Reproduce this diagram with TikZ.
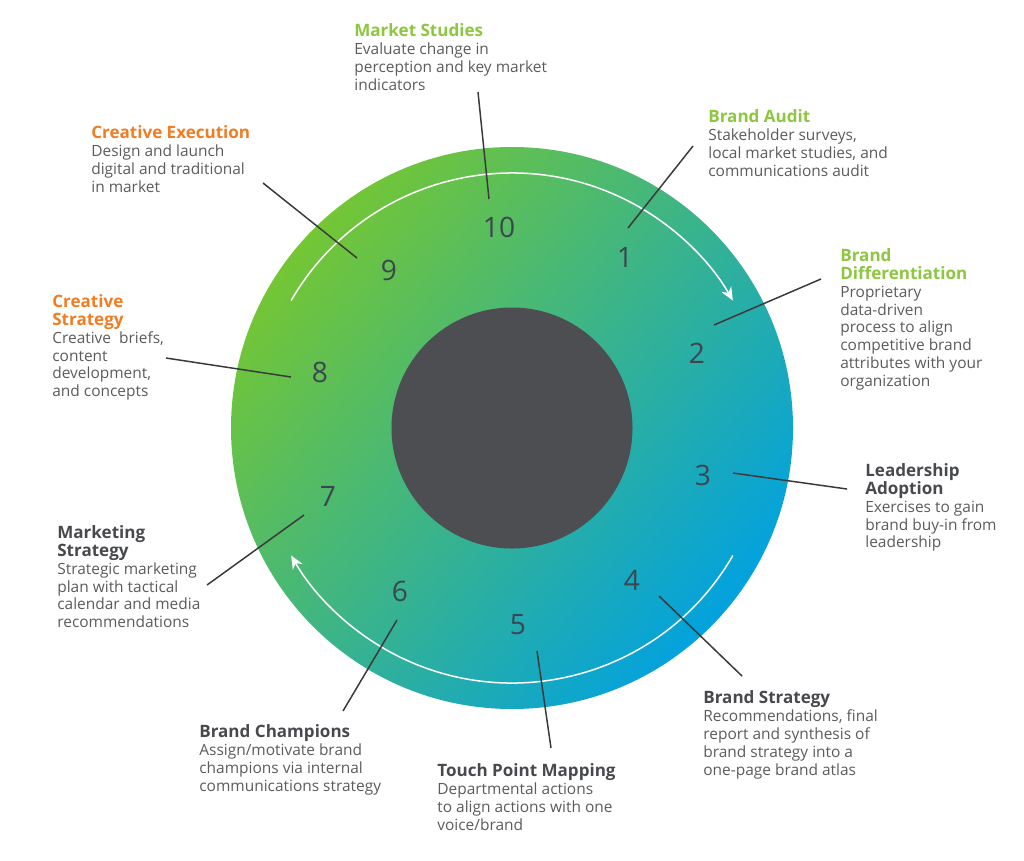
\documentclass[tikz,border=0pt]{standalone}
\usepackage{fontspec}
\setmainfont{Open Sans}
\usetikzlibrary{arrows.meta}

\definecolor{titlegreen}{HTML}{8DC63F}
\definecolor{titleorange}{HTML}{F07D23}
\definecolor{titledark}{HTML}{48494D}
\definecolor{bodygray}{HTML}{5B5B5D}
\definecolor{numgray}{HTML}{3C4650}
\definecolor{hubgray}{HTML}{4C4E52}
\definecolor{linegray}{HTML}{3A3A3C}
\definecolor{ringgreen}{HTML}{74C634}
\definecolor{ringmid}{HTML}{3DB77A}
\definecolor{ringblue}{HTML}{02A2DF}

\newcommand{\ttl}[2]{{\color{#1}\bfseries\fontsize{9.7}{10.2}\selectfont #2}}

\tikzset{
  num/.style={text=numgray, font=\fontsize{16}{16}\selectfont},
  blk/.style={anchor=north west, inner sep=0pt, align=left, text=bodygray,
    font=\fontsize{8.8}{10.2}\selectfont},
  lead/.style={draw=linegray, line width=0.85pt},
  loop/.style={draw=white, line width=0.85pt, -{Stealth[length=7.5pt, width=6.5pt]}},
}

\begin{document}
\begin{tikzpicture}[x=0.02cm, y=-0.02cm]
  \useasboundingbox (0,0) rectangle (1024,860);
  \coordinate (c) at (512,428);

  % ring and hub
  \shade[top color=ringgreen, middle color=ringmid, bottom color=ringblue, shading angle=50]
    (c) circle[radius=281];
  \fill[hubgray] (c) circle[radius=120.5];

  % white cycle arrows
  \draw[loop] (c) ++(-150:255) arc[start angle=-150, end angle=-30, radius=255];
  \draw[loop] (c) ++(30:255) arc[start angle=30, end angle=150, radius=255];

  % step numbers
  \node[num] (n1) at (625,257) {1};
  \node[num] (n2) at (697,353) {2};
  \node[num] (n3) at (703,475) {3};
  \node[num] (n4) at (632,580) {4};
  \node[num] (n5) at (518,625) {5};
  \node[num] (n6) at (400,591) {6};
  \node[num] (n7) at (328,496) {7};
  \node[num] (n8) at (320,372) {8};
  \node[num] (n9) at (389,270) {9};
  \node[num] (n10) at (499,227) {10};

  % text blocks
  \node[blk] (ms) at (354,23) {\ttl{titlegreen}{Market Studies}\\Evaluate change in\\perception and key market\\indicators};
  \node[blk] (ba) at (708,109) {\ttl{titlegreen}{Brand Audit}\\Stakeholder surveys,\\local market studies, and\\communications audit};
  \node[blk] (bd) at (840,248) {\ttl{titlegreen}{Brand}\\\ttl{titlegreen}{Differentiation}\\Proprietary\\data-driven\\process to align\\competitive brand\\attributes with your\\organization};
  \node[blk] (la) at (865,463) {\ttl{titledark}{Leadership}\\\ttl{titledark}{Adoption}\\Exercises to gain\\brand buy-in from\\leadership};
  \node[blk] (bs) at (703,690) {\ttl{titledark}{Brand Strategy}\\Recommendations, final\\report and synthesis of\\brand strategy into a\\one-page brand atlas};
  \node[blk] (tpm) at (437,763) {\ttl{titledark}{Touch Point Mapping}\\Departmental actions\\to align actions with one\\voice/brand};
  \node[blk] (bc) at (199,724) {\ttl{titledark}{Brand Champions}\\Assign/motivate brand\\champions via internal\\communications strategy};
  \node[blk] (mks) at (57,525) {\ttl{titledark}{Marketing}\\\ttl{titledark}{Strategy}\\Strategic marketing\\plan with tactical\\calendar and media\\recommendations};
  \node[blk] (cs) at (52,294) {\ttl{titleorange}{Creative}\\\ttl{titleorange}{Strategy}\\Creative~ briefs,\\content\\development,\\and concepts};
  \node[blk] (ce) at (91,125) {\ttl{titleorange}{Creative Execution}\\Design and launch\\digital and traditional\\in market};

  % leader lines
  \coordinate (a1) at (628,228);  \coordinate (b1) at (693,146);
  \coordinate (a2) at (714,325);  \coordinate (b2) at (821,279);
  \coordinate (a3) at (733,473);  \coordinate (b3) at (847,489);
  \coordinate (a4) at (659,596);  \coordinate (b4) at (742,676);
  \coordinate (a5) at (537,651);  \coordinate (b5) at (551,748);
  \coordinate (a6) at (397,620);  \coordinate (b6) at (343,711);
  \coordinate (a7) at (304,515);  \coordinate (b7) at (207,585);
  \coordinate (a8) at (291,377);  \coordinate (b8) at (166,358);
  \coordinate (a9) at (357,258);  \coordinate (b9) at (263,183);
  \coordinate (a10) at (489,199); \coordinate (b10) at (478,92);
  \foreach \i in {1,...,10}
    \draw[lead] (a\i) -- (b\i);
\end{tikzpicture}
\end{document}
